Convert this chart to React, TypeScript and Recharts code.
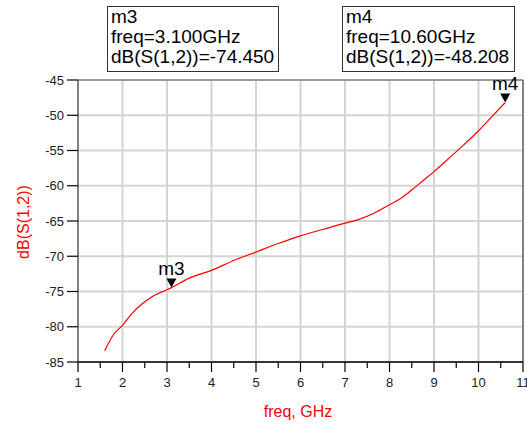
import React from 'react';
import { LineChart, Line, XAxis, YAxis, CartesianGrid, ReferenceLine, ReferenceDot, Label } from 'recharts';

const freq = [1.6, 1.8, 2.0, 2.2, 2.45, 2.7, 3.0, 3.1, 3.5, 4.0, 4.5, 5.0, 5.5, 6.0, 6.5, 7.0, 7.3, 7.65, 8.0, 8.25, 8.5, 8.75, 9.0, 9.25, 9.6, 10.0, 10.3, 10.6];
const s12 = [-83.4, -81.1, -79.8, -78.2, -76.7, -75.6, -74.75, -74.45, -73.1, -72.0, -70.6, -69.4, -68.2, -67.1, -66.2, -65.3, -64.8, -63.9, -62.7, -61.8, -60.6, -59.3, -58.0, -56.6, -54.6, -52.2, -50.2, -48.208];

const xMajor = [1, 2, 3, 4, 5, 6, 7, 8, 9, 10, 11];
const xTicks = [1, 1.5, 2, 2.5, 3, 3.5, 4, 4.5, 5, 5.5, 6, 6.5, 7, 7.5, 8, 8.5, 9, 9.5, 10, 10.5, 11];
const yTicks = [-85, -80, -75, -70, -65, -60, -55, -50, -45];

const markerNames = ['m3', 'm4'];
const markerFreq = [3.1, 10.6];
const markerVal = [-74.45, -48.208];
const markerFreqText = ['3.100GHz', '10.60GHz'];
const markerValText = ['-74.450', '-48.208'];

const data = freq.map((f, i) => ({ freq: f, db: s12[i] }));

const FONT = "Arial, 'Liberation Sans', sans-serif";

const XTick = (props: any) => {
  const { x, y, payload } = props;
  const major = Number.isInteger(payload.value);
  return (
    <g>
      <line x1={x} x2={x} y1={y} y2={y + (major ? 10 : 6)} stroke="#000" strokeWidth={1.2} />
      {major && (
        <text x={x} y={y + 25} textAnchor="middle" fontSize={13} fill="#222" fontFamily={FONT}>
          {payload.value}
        </text>
      )}
    </g>
  );
};

const markerShape = (name: string) => (props: any) => {
  const { cx, cy } = props;
  return (
    <g>
      <polygon points={`${cx - 5},${cy - 9} ${cx + 5},${cy - 9} ${cx},${cy}`} fill="#000" />
      <text x={cx} y={cy - 13} textAnchor="middle" fontSize={19} fill="#000" fontFamily={FONT}>{name}</text>
    </g>
  );
};

const boxLeft = [107, 342];
const boxWidth = [172, 173];

export default function App() {
  return (
    <div style={{ position: 'fixed', left: 0, top: 0, width: 527, height: 426, background: '#fff', fontFamily: FONT }}>
      <LineChart width={527} height={426} data={data} margin={{ top: 80, right: 4, bottom: 0, left: 0 }}>
        <CartesianGrid stroke="#d4d4d4" strokeWidth={2} verticalValues={xMajor} horizontalValues={yTicks} />
        <XAxis
          dataKey="freq"
          type="number"
          domain={[1, 11]}
          ticks={xTicks}
          interval={0}
          height={64}
          tickSize={0}
          tickMargin={0}
          tick={<XTick />}
          axisLine={{ stroke: '#000', strokeWidth: 1.5 }}
        >
          <Label
            content={() => (
              <text x={298} y={417} textAnchor="middle" fontSize={16} fill="#ff0000" fontFamily={FONT}>freq, GHz</text>
            )}
          />
        </XAxis>
        <YAxis
          type="number"
          domain={[-85, -45]}
          ticks={yTicks}
          interval={0}
          width={78}
          tickSize={11}
          tickMargin={3}
          tick={{ fontSize: 13, fill: '#222', fontFamily: FONT }}
          tickLine={{ stroke: '#000', strokeWidth: 1.2 }}
          axisLine={{ stroke: '#666', strokeWidth: 1.5 }}
        >
          <Label
            content={() => (
              <text x={29} y={222} transform="rotate(-90, 29, 222)" textAnchor="middle" fontSize={16} fill="#ff0000" fontFamily={FONT}>dB(S(1,2))</text>
            )}
          />
        </YAxis>
        <ReferenceLine y={-45} stroke="#888" strokeWidth={1.5} />
        <ReferenceLine x={11} stroke="#666" strokeWidth={1.5} />
        <Line type="monotone" dataKey="db" stroke="#ff0000" strokeWidth={1.2} dot={false} isAnimationActive={false} />
        {markerNames.map((m, i) => (
          <ReferenceDot key={m} x={markerFreq[i]} y={markerVal[i]} r={0} shape={markerShape(m)} ifOverflow="visible" />
        ))}
      </LineChart>
      {markerNames.map((m, i) => (
        <div
          key={m}
          style={{
            position: 'absolute',
            left: boxLeft[i],
            top: 6,
            width: boxWidth[i],
            height: 66,
            boxSizing: 'border-box',
            border: '1px solid #333',
            background: '#fff',
            fontSize: 19,
            lineHeight: '20px',
            padding: '0 0 0 3px',
            color: '#000',
            whiteSpace: 'nowrap',
          }}
        >
          <div>{m}</div>
          <div>freq={markerFreqText[i]}</div>
          <div>dB(S(1,2))={markerValText[i]}</div>
        </div>
      ))}
    </div>
  );
}
